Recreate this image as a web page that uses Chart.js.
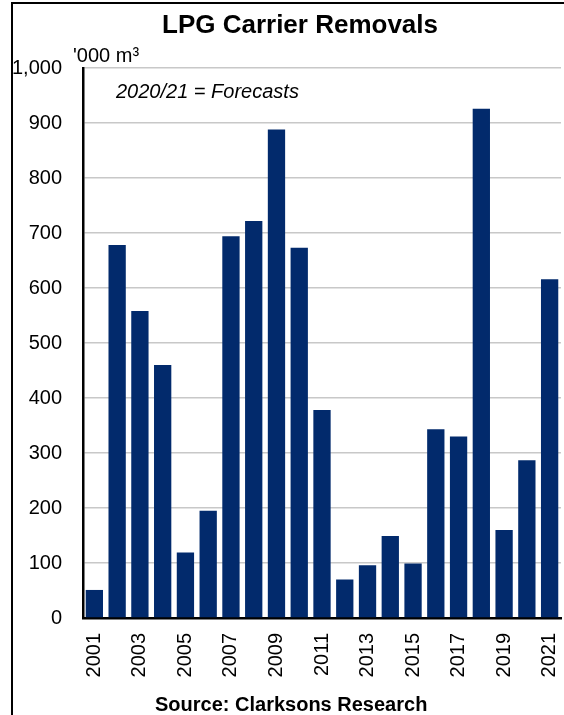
<!DOCTYPE html>
<html>
<head>
<meta charset="utf-8">
<title>LPG Carrier Removals</title>
<script src="https://cdn.jsdelivr.net/npm/chart.js@4.4.1/dist/chart.umd.min.js"></script>
<style>
  html, body { margin: 0; padding: 0; background: #fff; }
  #wrap { position: relative; width: 564px; height: 715px; }
</style>
</head>
<body>
<div id="wrap"><canvas id="removalsChart" width="564" height="715"></canvas></div>
<script>
// '000 m3 removed per year (2020/21 forecasts)
const years = ['2001', '2002', '2003', '2004', '2005', '2006', '2007', '2008', '2009', '2010', '2011',
    '2012', '2013', '2014', '2015', '2016', '2017', '2018', '2019', '2020', '2021'];
const removals = [51, 678, 558, 460, 119, 195, 694, 722, 888, 673, 378,
    70, 96, 149, 99, 343, 330, 926, 160, 287, 616];
const yTicks = [0, 100, 200, 300, 400, 500, 600, 700, 800, 900, 1000];

const FONT = '"Liberation Sans", Arial, sans-serif';

// titles, notes and the frame round the chart
const decorations = {
    id: 'decorations',
    afterDraw(chart) {
        const ctx = chart.ctx;
        ctx.save();
        ctx.strokeStyle = '#000';
        ctx.lineWidth = 2;
        ctx.beginPath();
        ctx.moveTo(12, 715);
        ctx.lineTo(12, 3);
        ctx.lineTo(564, 3);
        ctx.stroke();

        ctx.fillStyle = '#000';
        ctx.textBaseline = 'alphabetic';
        ctx.textAlign = 'center';
        ctx.font = 'bold 26px ' + FONT;
        ctx.fillText('LPG Carrier Removals', 300, 33);

        ctx.textAlign = 'left';
        ctx.font = '20px ' + FONT;
        ctx.fillText("'000 m³", 73, 62);
        ctx.font = 'italic 20px ' + FONT;
        ctx.fillText('2020/21 = Forecasts', 116, 98);

        ctx.font = 'bold 20px ' + FONT;
        ctx.fillText('Source: Clarksons Research', 155, 711);
        ctx.restore();
    }
};

new Chart(document.getElementById('removalsChart'), {
    type: 'bar',
    data: {
        labels: years,
        datasets: [{
            data: removals,
            backgroundColor: '#022a6c',
            borderWidth: 0,
            barPercentage: 0.76,
            categoryPercentage: 1
        }]
    },
    options: {
        responsive: false,
        animation: false,
        layout: { padding: { top: 68, right: 3, bottom: 0, left: 0 } },
        scales: {
            x: {
                grid: { display: false, drawTicks: false },
                border: { display: true, color: '#000', width: 2.5 },
                ticks: {
                    autoSkip: false,
                    minRotation: 90,
                    maxRotation: 90,
                    padding: 15,
                    color: '#000',
                    font: { family: FONT, size: 20 },
                    callback: (val, i) => (i % 2 === 0 ? years[i] : '')
                },
                afterFit: (scale) => {
                    scale.height = 97;
                    scale.paddingLeft = 0;
                    scale.paddingRight = 0;
                }
            },
            y: {
                min: 0,
                max: 1000,
                afterBuildTicks: (scale) => { scale.ticks = yTicks.map(v => ({ value: v })); },
                grid: { color: '#c8c8c8', lineWidth: 1.5, drawTicks: false },
                border: { display: true, color: '#000', width: 2.5 },
                ticks: {
                    padding: 21,
                    color: '#000',
                    font: { family: FONT, size: 20 },
                    callback: (v) => v.toLocaleString('en-US')
                },
                afterFit: (scale) => {
                    scale.width = 83;
                    scale.paddingTop = 0;
                    scale.paddingBottom = 0;
                }
            }
        },
        plugins: {
            legend: { display: false },
            tooltip: { enabled: false }
        }
    },
    plugins: [decorations]
});
</script>
</body>
</html>
